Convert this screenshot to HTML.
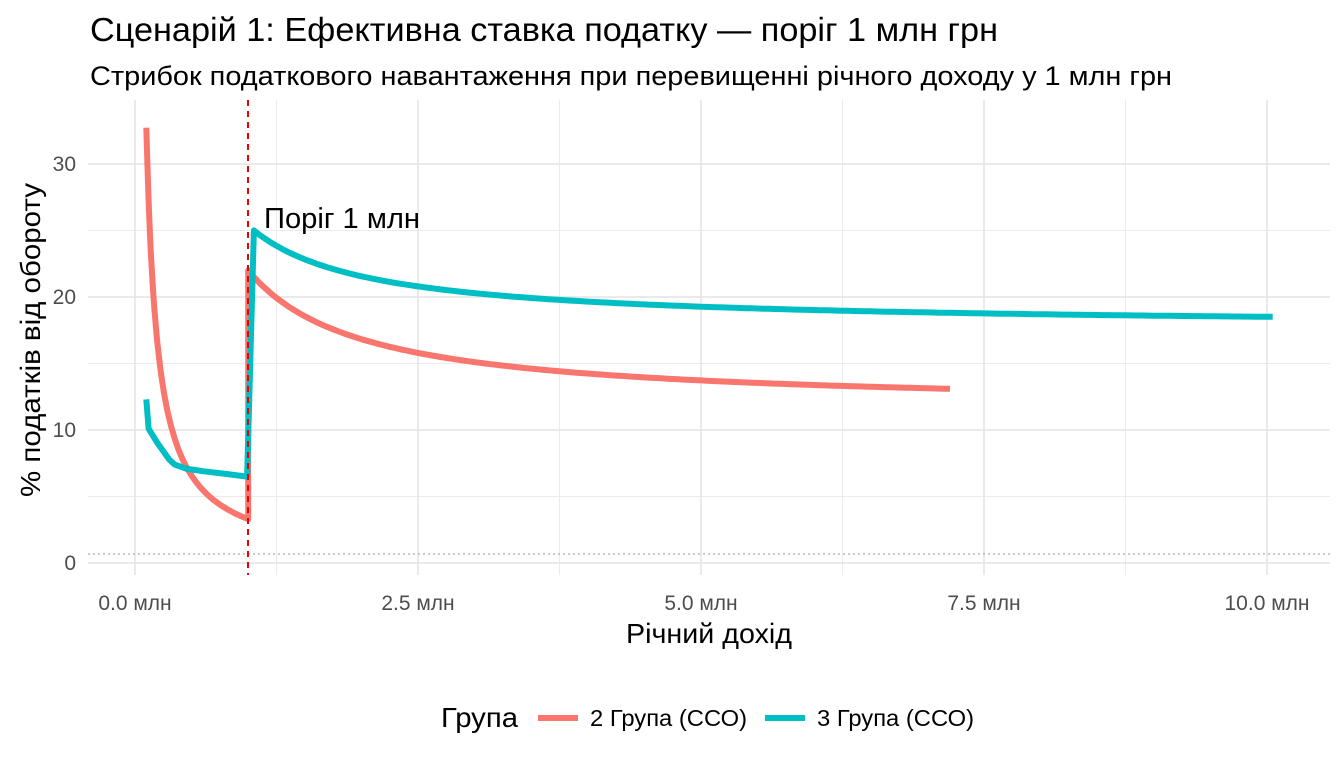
<!DOCTYPE html>
<html><head><meta charset="utf-8"><style>
body{margin:0;background:#fff;}
svg text{font-family:"Liberation Sans",sans-serif;}
</style></head><body>
<svg id="s" width="1344" height="768" viewBox="0 0 1344 768" xmlns="http://www.w3.org/2000/svg">
<rect width="1344" height="768" fill="#fff"/>
<g stroke="#ebebeb" stroke-width="1">
<line x1="88" x2="1330" y1="496.5" y2="496.5"/><line x1="88" x2="1330" y1="363.5" y2="363.5"/><line x1="88" x2="1330" y1="230.5" y2="230.5"/>
<line x1="276.5" x2="276.5" y1="100" y2="575"/><line x1="559.5" x2="559.5" y1="100" y2="575"/><line x1="842.5" x2="842.5" y1="100" y2="575"/><line x1="1125.5" x2="1125.5" y1="100" y2="575"/>
</g>
<g stroke="#e4e4e4" stroke-width="1.6">
<line x1="88" x2="1330" y1="563" y2="563"/><line x1="88" x2="1330" y1="430" y2="430"/><line x1="88" x2="1330" y1="297" y2="297"/><line x1="88" x2="1330" y1="164" y2="164"/>
<line x1="135" x2="135" y1="100" y2="575"/><line x1="418" x2="418" y1="100" y2="575"/><line x1="701" x2="701" y1="100" y2="575"/><line x1="984" x2="984" y1="100" y2="575"/><line x1="1267" x2="1267" y1="100" y2="575"/>
</g>
<line x1="88" x2="1330" y1="554" y2="554" stroke="#aaa" stroke-width="1.2" stroke-dasharray="2,3"/>
<path id="red" fill="none" stroke="#F8766D" stroke-width="6" stroke-linejoin="round"/>
<path id="teal" fill="none" stroke="#00BFC4" stroke-width="6" stroke-linejoin="round"/>
<line x1="248" x2="248" y1="100" y2="575" stroke="#e00" stroke-width="2" stroke-dasharray="6,5"/>
<text x="264" y="228" font-size="29" fill="#000" textLength="156" lengthAdjust="spacingAndGlyphs">Поріг 1 млн</text>
<g font-size="21" fill="#4d4d4d" text-anchor="end">
<text x="76" y="570">0</text><text x="76" y="437">10</text><text x="76" y="304">20</text><text x="76" y="171">30</text>
</g>
<g font-size="21" fill="#4d4d4d" text-anchor="middle">
<text x="135" y="610">0.0 млн</text><text x="418" y="610">2.5 млн</text><text x="701" y="610">5.0 млн</text><text x="984" y="610">7.5 млн</text><text x="1267" y="610">10.0 млн</text>
</g>
<text x="709" y="643" font-size="28" text-anchor="middle" fill="#000" textLength="166" lengthAdjust="spacingAndGlyphs">Річний дохід</text>
<text transform="translate(40,340) rotate(-90)" font-size="28" text-anchor="middle" fill="#000" textLength="314" lengthAdjust="spacingAndGlyphs">% податків від обороту</text>
<text x="90" y="41" font-size="33" fill="#000" textLength="908" lengthAdjust="spacingAndGlyphs">Сценарій 1: Ефективна ставка податку — поріг 1 млн грн</text>
<text x="90" y="85" font-size="27" fill="#000" textLength="1082" lengthAdjust="spacingAndGlyphs">Стрибок податкового навантаження при перевищенні річного доходу у 1 млн грн</text>
<text x="441" y="727" font-size="28" fill="#000" textLength="77" lengthAdjust="spacingAndGlyphs">Група</text>
<line x1="538" x2="578" y1="718" y2="718" stroke="#F8766D" stroke-width="6"/>
<text x="590" y="726" font-size="23" fill="#000" textLength="157" lengthAdjust="spacingAndGlyphs">2 Група (ССО)</text>
<line x1="765" x2="805" y1="718" y2="718" stroke="#00BFC4" stroke-width="6"/>
<text x="817" y="726" font-size="23" fill="#000" textLength="157" lengthAdjust="spacingAndGlyphs">3 Група (ССО)</text>
</svg>
<script>
function X(v){return 135+v*113.2}function Y(v){return 563-v*13.3}
var r=[],t=[];
for(var x=0.1;x<=1.0001;x+=0.01)r.push([x,3.27/x+0.03]);
r.push([1.0,22]);
for(var x=1.0;x<=7.2;x+=0.05)r.push([x,11.66+10.34/x]);
t=[[0.1,12.3],[0.12,10.1],[0.2,9.0],[0.3,7.8],[0.35,7.4],[0.45,7.1],[0.6,6.9],[0.8,6.7],[0.99,6.5]];
t.push([1.05,25]);
for(var x=1.05;x<=10.1;x+=0.05)t.push([x,17.75+7.62/x]);
function p(a){return a.map(function(q,i){return (i?'L':'M')+X(q[0]).toFixed(1)+','+Y(q[1]).toFixed(1)}).join('')}
document.getElementById('red').setAttribute('d',p(r));
document.getElementById('teal').setAttribute('d',p(t));
</script>
</body></html>
